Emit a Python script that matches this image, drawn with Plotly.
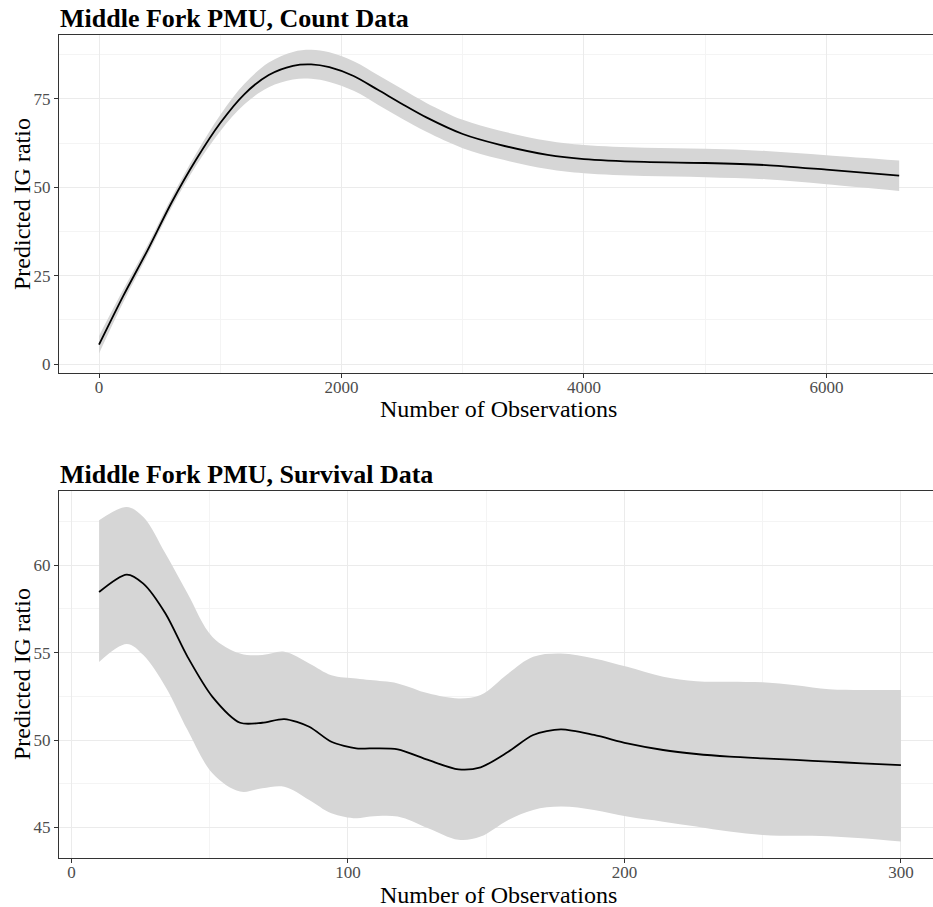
import plotly.graph_objects as go

# Count data: predicted IG ratio with confidence ribbon
count_x = [0, 200, 400, 600, 800, 1000, 1200, 1400, 1600, 1750, 1900, 2100,
           2300, 2500, 2700, 3000, 3300, 3700, 4000, 4500, 5000, 5500, 6000, 6600]
count_fit = [5.5, 19.3, 32.2, 45.8, 57.8, 68.2, 76.4, 81.8, 84.4, 84.8, 84.0, 81.5,
             77.6, 73.6, 69.8, 65.1, 62.1, 59.2, 58.0, 57.2, 56.9, 56.3, 55.0, 53.3]
count_lower = [3.0, 17.5, 30.8, 44.4, 56.1, 65.9, 73.5, 78.3, 80.5, 80.7, 79.8, 77.3,
               73.4, 69.4, 65.7, 61.1, 58.1, 55.2, 54.0, 53.2, 52.9, 52.3, 50.9, 49.0]
count_upper = [8.0, 21.1, 33.6, 47.2, 59.5, 70.5, 79.3, 85.3, 88.3, 88.9, 88.2, 85.7,
               81.8, 77.8, 73.9, 69.1, 66.1, 63.2, 62.0, 61.2, 60.9, 60.3, 59.1, 57.6]

# Survival data: predicted IG ratio with confidence ribbon
surv_x = [10, 20, 26, 34, 42, 51, 61, 69, 77, 86, 94, 103, 108, 118, 129, 140, 148,
          158, 167, 177, 189, 201, 214, 226, 238, 250, 262, 274, 286, 300]
surv_fit = [58.47, 59.47, 58.95, 57.24, 54.76, 52.47, 50.99, 50.99, 51.2, 50.76, 49.9,
            49.52, 49.52, 49.47, 48.86, 48.32, 48.44, 49.33, 50.29, 50.61, 50.29, 49.81,
            49.43, 49.2, 49.05, 48.95, 48.86, 48.76, 48.67, 48.57]
surv_upper = [62.57, 63.33, 62.76, 60.67, 58.38, 55.9, 54.95, 54.86, 55.05, 54.38, 53.71,
              53.52, 53.43, 53.24, 52.67, 52.38, 52.57, 53.81, 54.76, 54.95, 54.67, 54.19,
              53.62, 53.37, 53.33, 53.3, 53.14, 52.9, 52.86, 52.86]
surv_lower = [54.47, 55.5, 54.86, 53.05, 50.57, 48.1, 47.05, 47.24, 47.33, 46.57, 45.81,
              45.52, 45.62, 45.62, 44.95, 44.29, 44.48, 45.43, 46.0, 46.19, 46.0, 45.62,
              45.33, 45.05, 44.76, 44.57, 44.52, 44.5, 44.38, 44.19]

panel_titles = ["Middle Fork PMU, Count Data", "Middle Fork PMU, Survival Data"]
x_title = "Number of Observations"
y_title = "Predicted IG ratio"

W, H = 933, 907
FONT = "Liberation Serif"
RIBBON = "#d6d6d6"
GRID = "#ebebeb"
MINOR = "#f4f4f4"
BORDER = "#333333"


def px_x(p):
    return p / W


def px_y(p):
    return 1 - p / H


fig = go.Figure()


def add_panel(x, fit, lo, hi, xa, ya):
    fig.add_trace(go.Scatter(x=x, y=lo, mode="lines", line=dict(width=0, shape="spline"),
                             xaxis=xa, yaxis=ya, showlegend=False, hoverinfo="skip"))
    fig.add_trace(go.Scatter(x=x, y=hi, mode="lines", line=dict(width=0, shape="spline"),
                             fill="tonexty", fillcolor=RIBBON,
                             xaxis=xa, yaxis=ya, showlegend=False, hoverinfo="skip"))
    fig.add_trace(go.Scatter(x=x, y=fit, mode="lines",
                             line=dict(color="black", width=1.8, shape="spline", smoothing=0.8),
                             xaxis=xa, yaxis=ya, showlegend=False))


add_panel(count_x, count_fit, count_lower, count_upper, "x", "y")
add_panel(surv_x, surv_fit, surv_lower, surv_upper, "x2", "y2")

x_dom = [px_x(59), 1.0]
top_dom = [px_y(373), px_y(35)]
bot_dom = [px_y(858), px_y(491)]

tickfont = dict(family=FONT, size=17, color="#4d4d4d")


def xaxis_cfg(rng, dtick, minor_dtick, anchor):
    return dict(domain=x_dom, range=rng, anchor=anchor, dtick=dtick, tick0=0,
                showgrid=True, gridcolor=GRID, gridwidth=1,
                minor=dict(dtick=minor_dtick, tick0=0, showgrid=True, gridcolor=MINOR,
                           gridwidth=1, ticks=""),
                showline=True, linecolor=BORDER, linewidth=1, mirror=True,
                ticks="outside", ticklen=4, tickcolor=BORDER, tickfont=tickfont,
                ticklabelstandoff=-5, zeroline=False)


def yaxis_cfg(rng, dom, dtick, minor_dtick, tick0, anchor):
    return dict(domain=dom, range=rng, anchor=anchor, dtick=dtick, tick0=tick0,
                showgrid=True, gridcolor=GRID, gridwidth=1,
                minor=dict(dtick=minor_dtick, tick0=tick0, showgrid=True, gridcolor=MINOR,
                           gridwidth=1, ticks=""),
                showline=True, linecolor=BORDER, linewidth=1,
                ticks="outside", ticklen=4, tickcolor=BORDER, tickfont=tickfont,
                zeroline=False)


fig.update_layout(
    width=W, height=H,
    margin=dict(l=0, r=0, t=0, b=0),
    paper_bgcolor="white", plot_bgcolor="white",
    font=dict(family=FONT),
    xaxis=xaxis_cfg([-330, 6879], 2000, 1000, "y"),
    yaxis=yaxis_cfg([-2.5, 93.1], top_dom, 25, 12.5, 0, "x"),
    xaxis2=xaxis_cfg([-4.5, 311.6], 100, 50, "y2"),
    yaxis2=yaxis_cfg([43.25, 64.25], bot_dom, 5, 2.5, 45, "x2"),
)

annotations = []
# Panel titles
for title, ypx in zip(panel_titles, [18, 474]):
    annotations.append(dict(text=f"<b>{title}</b>", x=px_x(58), y=px_y(ypx),
                            xref="paper", yref="paper", xanchor="left", yanchor="middle",
                            showarrow=False, font=dict(family=FONT, size=26, color="black")))
# Axis titles
for ypx in [409, 895]:
    annotations.append(dict(text=x_title, x=px_x(498), y=px_y(ypx), xref="paper", yref="paper",
                            xanchor="center", yanchor="middle", showarrow=False,
                            font=dict(family=FONT, size=24, color="black")))
for ypx in [204, 674]:
    annotations.append(dict(text=y_title, x=px_x(22), y=px_y(ypx), xref="paper", yref="paper",
                            xanchor="center", yanchor="middle", textangle=-90, showarrow=False,
                            font=dict(family=FONT, size=24, color="black")))
fig.update_layout(annotations=annotations)

fig.write_html("out.html")
